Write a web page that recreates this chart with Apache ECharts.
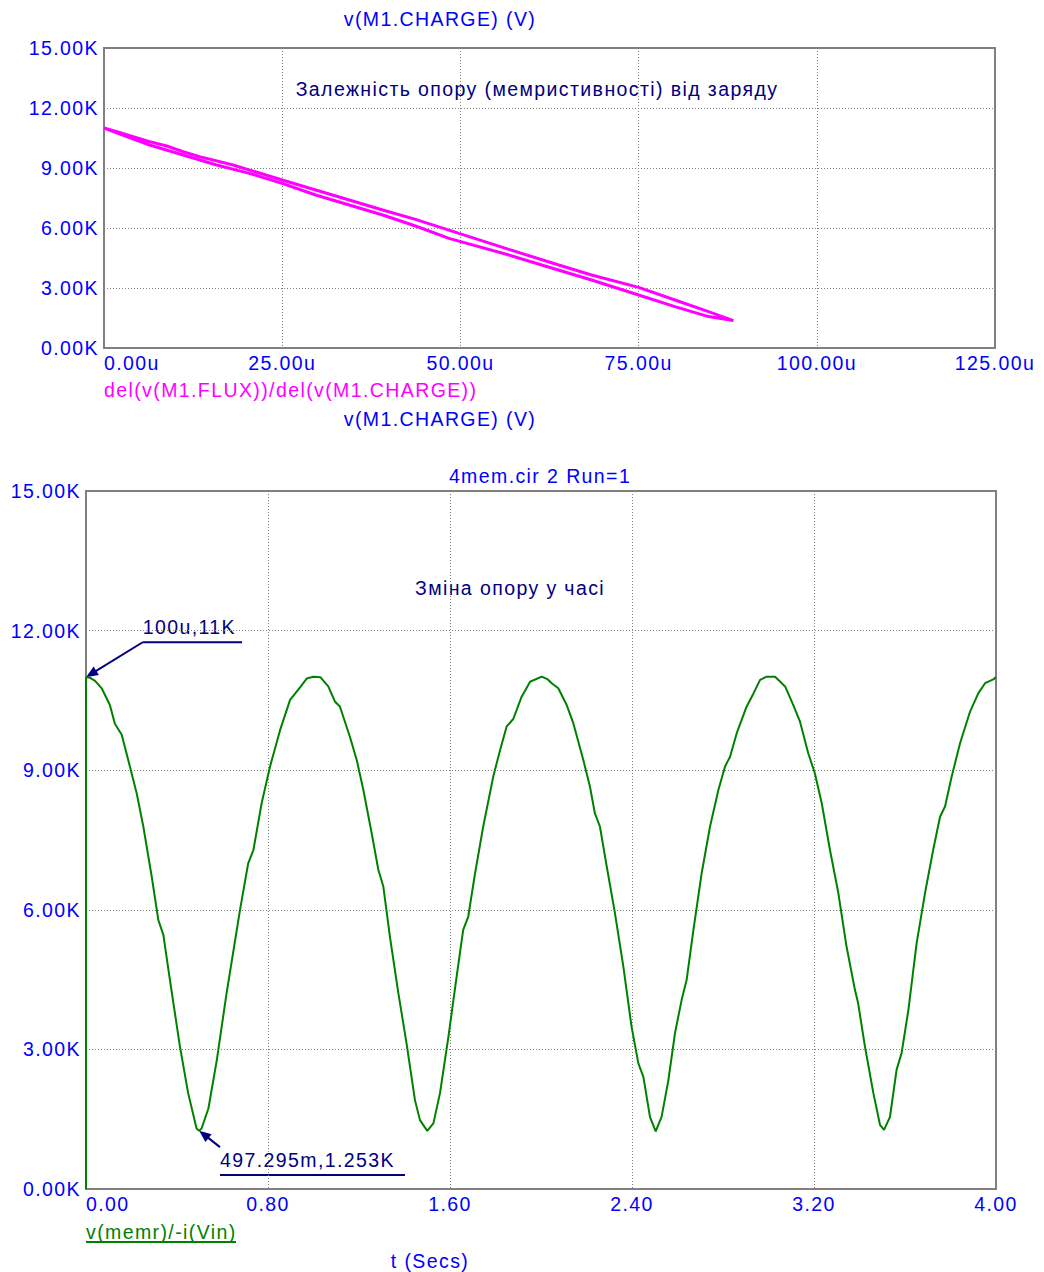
<!DOCTYPE html>
<html>
<head>
<meta charset="utf-8">
<script src="https://cdn.jsdelivr.net/npm/echarts@6/dist/echarts.min.js"></script>
<style>
html,body{margin:0;padding:0;background:#fff;}
#c{width:1044px;height:1272px;letter-spacing:1.4px;}
</style>
</head>
<body>
<div id="c"></div>
<script>
// ---- Top chart: R vs charge (loop), q in u, R in K ----
const qLoop = [0,1.8,4.1,6.4,8.8,11.1,13.4,18.1,25,29.7,34.4,39.1,43.7,49.8,56.8,63.8,68.4,75,80.1,84.8,88.3,
               84.8,80.1,75,68.4,61.4,56.8,48.4,43.7,39.1,34.4,29.7,25,20.4,15.8,11.1,6.4,3,0];
const rLoop = [11.0,10.82,10.57,10.32,10.1,9.82,9.57,9.15,8.4,7.9,7.4,6.9,6.43,5.73,4.93,4.15,3.65,3.03,2.4,1.82,1.37,
               1.57,2.07,2.65,3.4,4.15,4.65,5.48,6.1,6.65,7.15,7.65,8.23,8.73,9.15,9.65,10.15,10.6,11.0];

// ---- Bottom chart: R vs time, t in s, R in K ----
const tTime = [0,0.0001,0.02,0.04,0.069,0.105,0.127,0.157,0.193,0.223,0.252,0.289,0.318,0.340,0.369,0.413,0.449,0.486,0.497295,0.508,0.538,0.575,0.618,0.677,0.713,0.736,0.772,0.809,0.853,0.897,0.941,0.970,1.000,
  1.030,1.065,1.095,1.116,1.160,1.190,1.219,1.256,1.285,1.307,1.336,1.373,1.409,1.446,1.468,1.500,1.527,1.556,1.593,1.629,1.658,1.680,1.710,1.746,1.790,1.820,1.849,1.878,1.915,1.952,2.003,
  2.030,2.047,2.076,2.113,2.142,2.186,2.215,2.237,2.259,2.289,2.325,2.362,2.398,2.428,2.450,2.479,2.504,2.530,2.560,2.589,2.618,2.640,2.670,2.706,2.743,2.780,2.809,2.831,2.860,2.904,2.934,2.963,2.992,
  3.029,3.073,3.109,3.138,3.175,3.204,3.234,3.270,3.307,3.343,3.380,3.394,3.424,3.461,3.490,3.508,3.534,3.563,3.585,3.615,3.651,3.688,3.724,3.754,3.776,3.805,3.842,3.886,3.922,3.952,3.988,4.0];
const rTime = [0,11.0,10.98,10.92,10.76,10.40,10.0,9.76,9.08,8.50,7.79,6.71,5.78,5.46,4.49,3.06,2.06,1.30,1.253,1.30,1.73,2.77,4.21,6.00,7.00,7.29,8.29,9.08,9.86,10.51,10.78,10.97,11.01,
  11.0,10.80,10.47,10.37,9.72,9.22,8.58,7.64,6.86,6.50,5.42,4.21,3.13,1.91,1.48,1.25,1.41,2.06,3.27,4.56,5.57,5.85,6.78,7.79,8.86,9.43,9.94,10.10,10.58,10.90,11.01,
  10.95,10.87,10.76,10.40,10.01,9.22,8.65,8.07,7.79,6.93,5.93,4.78,3.49,2.70,2.41,1.55,1.24,1.55,2.34,3.35,4.06,4.49,5.57,6.78,7.79,8.58,9.08,9.29,9.79,10.37,10.65,10.94,11.01,
  11.01,10.80,10.40,10.05,9.36,8.93,8.29,7.29,6.36,5.21,4.28,3.99,3.06,2.06,1.38,1.27,1.55,2.56,2.92,3.85,5.28,6.36,7.29,8.00,8.22,8.86,9.58,10.26,10.65,10.87,10.95,11.0];

// ---- axes / ticks ----
const xTopRange = [0,125,25];
const xBotRange = [0,4,0.8];
const yRange = [0,15,3];

// ---- names / labels ----
const seriesTopName = 'del(v(M1.FLUX))/del(v(M1.CHARGE))';
const seriesBotName = 'v(memr)/-i(Vin)';
// annotations: [text, tip(t,R), start(t,R), underline end t, underline R]
const annoText = ['100u,11K','497.295m,1.253K'];
const annoTip = [[0.0001,11.0],[0.497295,1.253]];
const annoStart = [[0.249,11.75],[0.589,0.90]];
const annoLineEnd = [0.686,1.402];
const annoLineR = [11.75,0.30];

const FONT = '"Liberation Sans", Arial, sans-serif';
const FS = 19.5;
const BLUE = '#0000ff', NAVY = '#000080', MAG = '#ff00ff', GREEN = '#008000', GRAY = '#808080';

function axisX(gi, r, fmt){
  return {type:'value', gridIndex:gi, min:r[0], max:r[1], interval:r[2],
    axisLine:{show:true, lineStyle:{color:GRAY, width:2}}, axisTick:{show:false},
    splitLine:{show:true, lineStyle:{color:GRAY, width:1, type:[1,2]}},
    axisLabel:{color:BLUE, fontSize:FS, fontFamily:FONT, margin:5, interval:0, alignMinLabel:'left',
      formatter:fmt}};
}
function axisY(gi, r){
  return {type:'value', gridIndex:gi, min:r[0], max:r[1], interval:r[2],
    axisLine:{show:true, lineStyle:{color:GRAY, width:2}}, axisTick:{show:false},
    splitLine:{show:true, lineStyle:{color:GRAY, width:1, type:[1,2]}},
    axisLabel:{color:BLUE, fontSize:FS, fontFamily:FONT, margin:5, interval:0,
      formatter:v=>v.toFixed(2)+'K'}};
}
const txt = (s, x, y, color, align) => ({type:'text', x:x, y:y, silent:true,
  style:{text:s, fill:color, font:FS+'px '+FONT, textAlign:align||'center', align:align||'center', textVerticalAlign:'middle', verticalAlign:'middle'}});

const option = {
  animation:false,
  backgroundColor:'#ffffff',
  grid:[
    {left:104, top:48, width:891, height:300, show:true, borderColor:GRAY, borderWidth:2, backgroundColor:'transparent'},
    {left:86, top:491, width:910, height:698, show:true, borderColor:GRAY, borderWidth:2, backgroundColor:'transparent'}
  ],
  xAxis:[axisX(0, xTopRange, v=>v.toFixed(2)+'u'), axisX(1, xBotRange, v=>v.toFixed(2))],
  yAxis:[axisY(0, yRange), axisY(1, yRange)],
  legend:[
    {data:[seriesTopName], left:99, top:380, padding:0, icon:'none', itemWidth:0, itemHeight:19, selectedMode:false,
     textStyle:{color:MAG, fontSize:FS, fontFamily:FONT}},
    {data:[seriesBotName], left:81, top:1222, padding:0, icon:'none', itemWidth:0, itemHeight:19, selectedMode:false,
     textStyle:{color:GREEN, fontSize:FS, fontFamily:FONT}}
  ],
  series:[
    {name:seriesTopName, type:'line', xAxisIndex:0, yAxisIndex:0, showSymbol:false, symbol:'none',
     lineStyle:{color:MAG, width:3}, itemStyle:{color:MAG},
     data:qLoop.map((q,i)=>[q, rLoop[i]])},
    {name:seriesBotName, type:'line', xAxisIndex:1, yAxisIndex:1, showSymbol:false, symbol:'none',
     lineStyle:{color:GREEN, width:2}, itemStyle:{color:GREEN},
     data:tTime.map((t,i)=>[t, rTime[i]])}
  ],
  graphic:[
    txt('v(M1.CHARGE) (V)', 440, 19, BLUE),
    txt('Залежність опору (мемристивності) від заряду', 537, 89, NAVY),
    txt('v(M1.CHARGE) (V)', 440, 419, BLUE),
    txt('4mem.cir 2 Run=1', 540, 476, BLUE),
    txt('Зміна опору у часі', 510, 588, NAVY),
    txt('t (Secs)', 430, 1261, BLUE)
  ]
};

const chart = echarts.init(document.getElementById('c'), null, {renderer:'svg'});
chart.setOption(option);

// annotations drawn from data coordinates
const extra = [];
for (let i = 0; i < annoText.length; i++) {
  const T = chart.convertToPixel({gridIndex:1}, annoTip[i]);
  const S = chart.convertToPixel({gridIndex:1}, annoStart[i]);
  const U1 = chart.convertToPixel({gridIndex:1}, [annoStart[i][0], annoLineR[i]]);
  const U2 = chart.convertToPixel({gridIndex:1}, [annoLineEnd[i], annoLineR[i]]);
  const dx = T[0]-S[0], dy = T[1]-S[1], L = Math.hypot(dx,dy);
  const ux = dx/L, uy = dy/L, nx = -uy, ny = ux;
  const hl = 12, hw = 5;
  const B = [T[0]-ux*hl, T[1]-uy*hl];
  extra.push({type:'line', silent:true, shape:{x1:S[0], y1:S[1], x2:B[0]+ux*2, y2:B[1]+uy*2}, style:{stroke:NAVY, lineWidth:2}});
  extra.push({type:'polygon', silent:true, shape:{points:[T, [B[0]+nx*hw, B[1]+ny*hw], [B[0]-nx*hw, B[1]-ny*hw]]}, style:{fill:NAVY}});
  extra.push({type:'line', silent:true, shape:{x1:U1[0], y1:U1[1], x2:U2[0], y2:U2[1]}, style:{stroke:NAVY, lineWidth:2}});
  extra.push({type:'text', silent:true, x:U1[0], y:U1[1]-5,
    style:{text:annoText[i], fill:NAVY, font:FS+'px '+FONT, textAlign:'left', align:'left', textVerticalAlign:'bottom', verticalAlign:'bottom'}});
}
// legend underline for the bottom trace
extra.push({type:'line', silent:true, shape:{x1:86, y1:1242, x2:236, y2:1242}, style:{stroke:GREEN, lineWidth:2}});
chart.setOption({graphic: option.graphic.concat(extra)});
</script>
</body>
</html>
